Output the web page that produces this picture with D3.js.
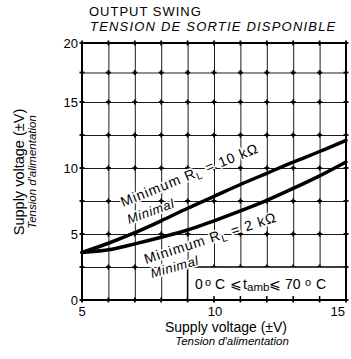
<!DOCTYPE html>
<html>
<head>
<meta charset="utf-8">
<script src="https://cdn.jsdelivr.net/npm/d3@7"></script>
<style>
  html, body { margin: 0; padding: 0; background: #fff; }
  svg { display: block; font-family: "Liberation Sans", Arial, Helvetica, sans-serif; }
</style>
</head>
<body>
<svg id="chart" width="351" height="359"></svg>
<script>
// Supply voltage (±V) sample points along the horizontal axis
const supplyVoltage = [5, 6, 7, 8, 9, 10, 11, 12, 13, 14, 15];
// Minimum output swing, R_L = 10 kΩ
const swingRL10k = [3.6, 4.3, 5.1, 6.0, 6.95, 7.85, 8.75, 9.6, 10.45, 11.25, 12.1];
// Minimum output swing, R_L = 2 kΩ
const swingRL2k = [3.6, 3.8, 4.25, 4.75, 5.3, 6.0, 6.75, 7.55, 8.45, 9.4, 10.45];
// Axis tick labels
const xTickLabels = [5, 10, 15];
const yTickLabels = [0, 5, 10, 15, 20];
// Grid positions
const xGrid = [5, 6, 7, 8, 9, 10, 11, 12, 13, 14, 15];
const yGrid = [0, 2.5, 5, 7.5, 10, 12.5, 15, 17.5, 20];

const svg = d3.select("#chart");
const plotL = 82, plotR = 346, plotT = 43, plotB = 300;

const x = d3.scaleLinear().domain([5, 15]).range([plotL, plotR]);
// Printed grid is slightly tighter in its top band
const y = d3.scaleLinear().domain([0, 15, 20]).range([plotB, 102, plotT]);

// Grid through the axis generators
const gx = svg.append("g")
  .attr("transform", `translate(0,${plotB})`)
  .call(d3.axisBottom(x).tickValues(xGrid).tickSize(-(plotB - plotT)).tickFormat(""));
const gy = svg.append("g")
  .attr("transform", `translate(${plotL},0)`)
  .call(d3.axisLeft(y).tickValues(yGrid).tickSize(-(plotR - plotL)).tickFormat(""));
[gx, gy].forEach(g => {
  g.select(".domain").remove();
  g.selectAll(".tick line").attr("stroke", "#1a1a1a").attr("stroke-width", 1);
});

// Small bold crosses at grid intersections
const cross = svg.append("g").attr("stroke", "#000").attr("stroke-width", 1.8);
xGrid.forEach(xv => yGrid.forEach(yv => {
  const cx = x(xv), cy = y(yv);
  cross.append("line").attr("x1", cx - 2.5).attr("x2", cx + 2.5).attr("y1", cy).attr("y2", cy);
  cross.append("line").attr("x1", cx).attr("x2", cx).attr("y1", cy - 2.5).attr("y2", cy + 2.5);
}));

// Temperature range box in the lower right corner
svg.append("rect")
  .attr("x", x(9)).attr("y", y(2.5))
  .attr("width", plotR - x(9)).attr("height", plotB - y(2.5))
  .attr("fill", "#fff").attr("stroke", "#000").attr("stroke-width", 1.5);
// Inward ticks along the bottom inside the box
xGrid.filter(v => v > 9 && v < 15).forEach(v => {
  svg.append("line").attr("x1", x(v)).attr("x2", x(v))
    .attr("y1", plotB).attr("y2", plotB - 4)
    .attr("stroke", "#000").attr("stroke-width", 1.5);
});

// Plot frame
svg.append("rect")
  .attr("x", plotL).attr("y", plotT)
  .attr("width", plotR - plotL).attr("height", plotB - plotT)
  .attr("fill", "none").attr("stroke", "#000").attr("stroke-width", 2);

// Curves
const line = d3.line()
  .x((d, i) => x(supplyVoltage[i]))
  .y(d => y(d))
  .curve(d3.curveMonotoneX);
[swingRL10k, swingRL2k].forEach(series => {
  svg.append("path")
    .attr("d", line(series))
    .attr("fill", "none")
    .attr("stroke", "#000")
    .attr("stroke-width", 3.5)
    .attr("stroke-linecap", "round");
});

// Curve labels
function curveLabel(px, py, angle, value) {
  const t = svg.append("text")
    .attr("transform", `translate(${px},${py}) rotate(${angle})`)
    .attr("font-size", 14).attr("letter-spacing", 1)
    .attr("fill", "#000")
    .attr("stroke", "#fff").attr("stroke-width", 3).attr("paint-order", "stroke");
  t.append("tspan").text("Minimum R");
  t.append("tspan").attr("font-size", 10).attr("dy", 3).text("L");
  t.append("tspan").attr("dy", -3).text(` = ${value} kΩ`);
}
function minimalLabel(px, py, angle) {
  svg.append("text")
    .attr("transform", `translate(${px},${py}) rotate(${angle})`)
    .attr("font-size", 13).attr("font-style", "italic").attr("letter-spacing", 0.7)
    .attr("fill", "#000")
    .attr("stroke", "#fff").attr("stroke-width", 3).attr("paint-order", "stroke")
    .text("Minimal");
}
curveLabel(123, 207, -22, 10);
minimalLabel(129, 224, -20);
curveLabel(146, 264, -18, 2);
minimalLabel(152, 278, -16);

// Temperature condition text: 0 °C ⩽ t_amb ⩽ 70 °C
const tt = svg.append("text")
  .attr("y", 289).attr("font-size", 14).attr("fill", "#000");
tt.append("tspan").attr("x", 195).text("0");
tt.append("tspan").attr("x", 205).attr("dy", -3).attr("font-size", 11).text("o");
tt.append("tspan").attr("x", 215).attr("dy", 3).text("C");
tt.append("tspan").attr("x", 230).text("⩽");
tt.append("tspan").attr("x", 243).text("t");
tt.append("tspan").attr("x", 247).attr("dy", 2).attr("font-size", 11.5).text("amb");
tt.append("tspan").attr("x", 269).attr("dy", -2).text("⩽");
tt.append("tspan").attr("x", 285).text("70");
tt.append("tspan").attr("x", 305).attr("dy", -3).attr("font-size", 11).text("o");
tt.append("tspan").attr("x", 316).attr("dy", 3).text("C");

// Tick labels
svg.append("g").selectAll("text").data(yTickLabels).join("text")
  .attr("x", 78).attr("y", d => y(d)).attr("dy", "0.36em")
  .attr("text-anchor", "end").attr("font-size", 13).attr("fill", "#000")
  .text(d => d);
svg.append("g").selectAll("text").data(xTickLabels).join("text")
  .attr("x", d => d === 15 ? 345 : x(d) + (d === 10 ? 1 : 0))
  .attr("y", 316)
  .attr("text-anchor", d => d === 15 ? "end" : "middle")
  .attr("font-size", 13).attr("fill", "#000")
  .text(d => d);

// Title
svg.append("text").attr("x", 89).attr("y", 16)
  .attr("font-size", 13).attr("letter-spacing", 1).attr("fill", "#000")
  .text("OUTPUT SWING");
svg.append("text").attr("x", 90).attr("y", 31)
  .attr("font-size", 13).attr("font-style", "italic").attr("letter-spacing", 1.2).attr("fill", "#000")
  .text("TENSION DE SORTIE DISPONIBLE");

// X axis title
svg.append("text").attr("x", 226).attr("y", 332)
  .attr("text-anchor", "middle").attr("font-size", 14).attr("fill", "#000")
  .text("Supply voltage (±V)");
svg.append("text").attr("x", 232).attr("y", 345)
  .attr("text-anchor", "middle").attr("font-size", 11.5).attr("font-style", "italic").attr("fill", "#000")
  .text("Tension d'alimentation");

// Y axis title
svg.append("text").attr("transform", "translate(24,172) rotate(-90)")
  .attr("text-anchor", "middle").attr("font-size", 14.5).attr("fill", "#000")
  .text("Supply voltage (±V)");
svg.append("text").attr("transform", "translate(36,172) rotate(-90)")
  .attr("text-anchor", "middle").attr("font-size", 11.5).attr("font-style", "italic").attr("fill", "#000")
  .text("Tension d'alimentation");
</script>
</body>
</html>
